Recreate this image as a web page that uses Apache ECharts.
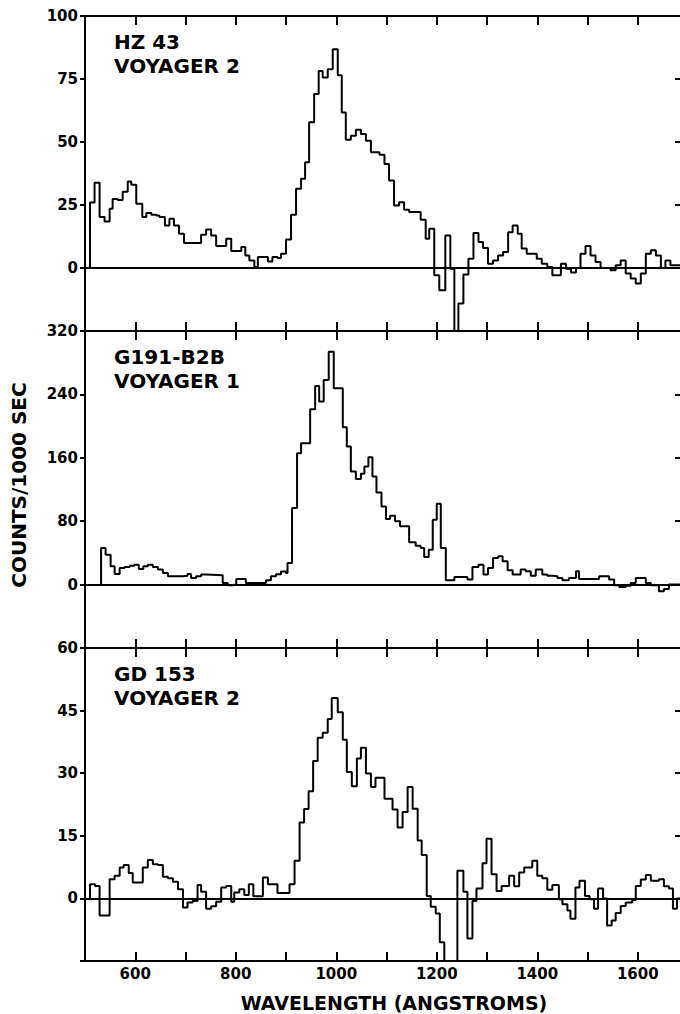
<!DOCTYPE html>
<html>
<head>
<meta charset="utf-8">
<script src="https://cdn.jsdelivr.net/npm/echarts@6/dist/echarts.min.js"></script>
<style>
html,body{margin:0;padding:0;background:#fff;}
#chart{width:680px;height:1014px;}
</style>
</head>
<body>
<div id="chart"></div>
<script>
// ---- data (wavelength in Angstroms, counts per 1000 sec), step starts ----
const hz43 = [[510,0],[510,26],[519,33.8],[529,20.2],[539,18.5],[549,23.5],[555,27.4],[565,27],[575,30.3],[585,34.3],[592,33],[602,25.5],[614,20.2],[622,21.8],[632,21.1],[642,20.8],[648,20.2],[659,16.9],[668,19.5],[677,16.9],[687,13.6],[697,9.9],[731,13.2],[741,15.3],[751,12.9],[761,8.7],[781,11.6],[791,6.7],[811,8.3],[819,5],[827,3],[837,0.4],[844,4.4],[864,2.6],[873,4.4],[883,4],[890,5.7],[900,11.3],[910,21.1],[920,31.4],[930,35.4],[938,42],[946,57.8],[956,69],[965,78.2],[973,75.6],[983,78.9],[993,86.8],[1003,76.5],[1011,61.7],[1019,50.9],[1029,52.5],[1039,54.9],[1049,53.2],[1059,50.5],[1069,45.9],[1086,44.9],[1096,41.3],[1105,34.7],[1115,24.8],[1125,26.1],[1135,23.1],[1145,22.2],[1168,19.1],[1178,11.6],[1185,15.6],[1195,-2.9],[1205,-8.8],[1217,12.9],[1227,-0.3],[1235,-38],[1243,-14.1],[1253,-2.6],[1263,3.7],[1273,13.9],[1283,10.3],[1292,7.9],[1302,1.7],[1312,3],[1322,5],[1332,6.3],[1342,14.2],[1351,16.9],[1361,13.6],[1369,7.7],[1379,5.7],[1399,3.7],[1409,1.7],[1420,0.4],[1430,-2.9],[1447,1.7],[1457,-0.3],[1467,-1.8],[1477,0],[1486,5.7],[1496,8.7],[1506,5],[1516,2.4],[1526,0],[1546,-0.9],[1556,1.1],[1566,3],[1576,-2.2],[1586,-4.2],[1596,-6.2],[1606,-2.2],[1616,5.7],[1626,7],[1636,5],[1646,0],[1655,3],[1665,1.1],[1690,1.1]];

const g191 = [[532,0],[532,46.2],[541,37.8],[551,23.1],[559,13.4],[569,21],[579,22.3],[589,23.9],[598,25.2],[607,19.7],[616,23.1],[625,25.2],[635,22.3],[645,18.9],[655,14.7],[665,10.5],[695,11.3],[704,13.4],[711,8.4],[721,10.5],[731,12.6],[741,11.8],[774,2.1],[784,-0.8],[794,0],[801,7.1],[820,2.1],[860,5.5],[870,10.5],[880,13],[890,16.4],[900,14.7],[903,27.3],[912,96.6],[922,165.8],[930,178.4],[948,221.2],[958,250.6],[966,230.9],[975,258.2],[985,293.9],[995,247.7],[1013,198.6],[1021,174.2],[1029,142.7],[1039,133.1],[1049,139.8],[1056,149],[1064,160.8],[1072,136.4],[1080,116.3],[1090,98.7],[1099,82.7],[1107,86.9],[1117,79.8],[1127,73.5],[1145,53.3],[1158,49.1],[1168,46.2],[1175,34.8],[1184,44.1],[1192,81.9],[1200,102],[1208,46.2],[1218,5.5],[1235,9.7],[1261,6.3],[1271,22.3],[1283,25.2],[1293,12.6],[1302,21],[1312,33.6],[1322,35.7],[1331,29.4],[1341,18.1],[1351,12.6],[1367,18.9],[1377,16.8],[1387,11.3],[1397,18.9],[1410,12.6],[1420,11.3],[1430,10.5],[1440,8.4],[1450,5.5],[1463,8.4],[1477,16.8],[1483,7.1],[1523,10.5],[1543,6.3],[1553,-0.8],[1563,-2.9],[1576,-1.3],[1586,2.1],[1596,8.4],[1616,2.1],[1626,-0.8],[1642,-8.4],[1652,-5.5],[1662,0],[1690,0]];

const gd153 = [[510,0],[510,3.4],[520,3],[529,-4.1],[549,4.6],[559,5.4],[569,7.4],[577,8],[587,6.1],[595,3.8],[615,7.4],[625,9.2],[635,8.2],[645,8],[655,5.2],[665,4.8],[675,4],[685,2.2],[695,-2.2],[704,-1],[714,-0.6],[724,3.2],[731,1.6],[741,-2.5],[751,-1.9],[761,-0.8],[771,2.6],[781,3],[791,-0.8],[797,1.4],[807,2.2],[817,0.8],[826,3.4],[835,0.5],[854,5],[864,3.4],[883,1.3],[907,3.4],[917,9],[927,18.2],[936,21.4],[945,25.7],[954,32.9],[963,38.5],[973,39.7],[983,43],[991,48],[1003,44.6],[1013,38],[1021,30.3],[1031,26.9],[1041,33.5],[1049,36.1],[1059,29.9],[1069,26.7],[1078,28.9],[1096,23.9],[1112,21.3],[1122,17],[1132,20.7],[1142,26.7],[1152,21.5],[1162,13.9],[1170,10.4],[1180,0.6],[1188,-2],[1198,-3.6],[1206,-10.5],[1215,-20],[1241,6.6],[1253,1.6],[1261,-9.6],[1271,-0.6],[1279,2.4],[1291,8.4],[1299,14.3],[1309,5.8],[1319,1.8],[1329,3],[1344,5.4],[1354,2.9],[1364,6.2],[1374,7.4],[1390,9],[1400,5.4],[1410,4.8],[1420,2.1],[1430,3.2],[1443,-0.2],[1450,-1.4],[1460,-2.9],[1466,-4.9],[1476,2.6],[1484,4.2],[1495,0.6],[1504,-0.2],[1513,-2.5],[1521,2.4],[1531,0],[1539,-6.5],[1548,-5.3],[1556,-3.5],[1566,-1.8],[1576,-1],[1589,-0.4],[1596,3],[1606,4.5],[1616,5.6],[1626,4.2],[1642,4.6],[1652,2.9],[1662,2.4],[1670,-2.5],[1678,0],[1690,0]];

const panelLabels = ['HZ 43\nVOYAGER 2', 'G191-B2B\nVOYAGER 1', 'GD 153\nVOYAGER 2'];
const yRanges = [[-25, 100, 25], [-80, 320, 80], [-15, 60, 15]];
const xRange = [500, 1690, 100];
const xTitle = 'WAVELENGTH (ANGSTROMS)';
const yTitle = 'COUNTS/1000 SEC';
const seriesData = [hz43, g191, gd153];

// ---- layout ----
const FONT = '"DejaVu Sans", sans-serif';
const grids = [
  {left: 85, width: 598, top: 16, height: 315, outerBoundsMode: 'none', containLabel: false},
  {left: 85, width: 598, top: 331, height: 317, outerBoundsMode: 'none', containLabel: false},
  {left: 85, width: 598, top: 648, height: 313, outerBoundsMode: 'none', containLabel: false}
];
const black = '#000';
const axisLine = {show: true, onZero: false, lineStyle: {color: black, width: 2}};
const labelStyle = {fontFamily: FONT, fontWeight: 'bold', fontSize: 15, color: black};

const xAxes = [], yAxes = [], series = [], titles = [];
grids.forEach((g, i) => {
  const last = i === grids.length - 1;
  xAxes.push({
    type: 'value', gridIndex: i, position: 'bottom', min: xRange[0], max: xRange[1], interval: xRange[2],
    axisLine, splitLine: {show: false},
    axisTick: {show: true, inside: true, length: 9, lineStyle: {color: black, width: 2}},
    axisLabel: Object.assign({show: last, margin: 5, showMaxLabel: false, showMinLabel: false,
      formatter: v => (v % 200 === 0 && v > 500 && v < 1700) ? String(v) : ''}, labelStyle),
    name: last ? xTitle : '', nameLocation: 'middle', nameGap: 32,
    nameTextStyle: {fontFamily: FONT, fontWeight: 'bold', fontSize: 19, color: black, padding: [0, 0, 0, 20]}
  });
  xAxes.push({
    type: 'value', gridIndex: i, position: 'top', min: xRange[0], max: xRange[1], interval: xRange[2],
    axisLine, splitLine: {show: false},
    axisTick: {show: true, inside: true, length: 9, lineStyle: {color: black, width: 2}},
    axisLabel: {show: false}
  });
  const [ymin, ymax, yint] = yRanges[i];
  yAxes.push({
    type: 'value', gridIndex: i, position: 'left', min: ymin, max: ymax, interval: yint,
    axisLine, splitLine: {show: false},
    axisTick: {show: true, inside: false, length: 5, lineStyle: {color: black, width: 2}},
    axisLabel: Object.assign({margin: 7, formatter: v => v < 0 ? '' : String(v)}, labelStyle)
  });
  yAxes.push({
    type: 'value', gridIndex: i, position: 'right', min: ymin, max: ymax, interval: yint,
    axisLine, splitLine: {show: false},
    axisTick: {show: true, inside: true, length: 8, lineStyle: {color: black, width: 2}},
    axisLabel: {show: false}
  });
  series.push({
    type: 'line', xAxisIndex: 2 * i, yAxisIndex: 2 * i, data: seriesData[i],
    step: 'end', symbol: 'none', clip: true, animation: false,
    lineStyle: {color: black, width: 2},
    markLine: {silent: true, symbol: 'none', animation: false,
      label: {show: false},
      lineStyle: {color: black, width: 2, type: 'solid'},
      data: [{yAxis: 0}]}
  });
  titles.push({
    text: panelLabels[i], left: 114, top: g.top + 14, padding: 0,
    textStyle: {fontFamily: FONT, fontWeight: 'bold', fontSize: 20, lineHeight: 24, color: black}
  });
});

const chart = echarts.init(document.getElementById('chart'), null, {renderer: 'svg'});
chart.setOption({
  animation: false,
  backgroundColor: '#fff',
  title: titles,
  grid: grids,
  xAxis: xAxes,
  yAxis: yAxes,
  series: series,
  graphic: [{
    type: 'text', x: 19, y: 485, rotation: Math.PI / 2,
    style: {text: yTitle, fill: black, font: 'bold 20px "DejaVu Sans", sans-serif', align: 'center', verticalAlign: 'middle'}
  }]
});
</script>
</body>
</html>
